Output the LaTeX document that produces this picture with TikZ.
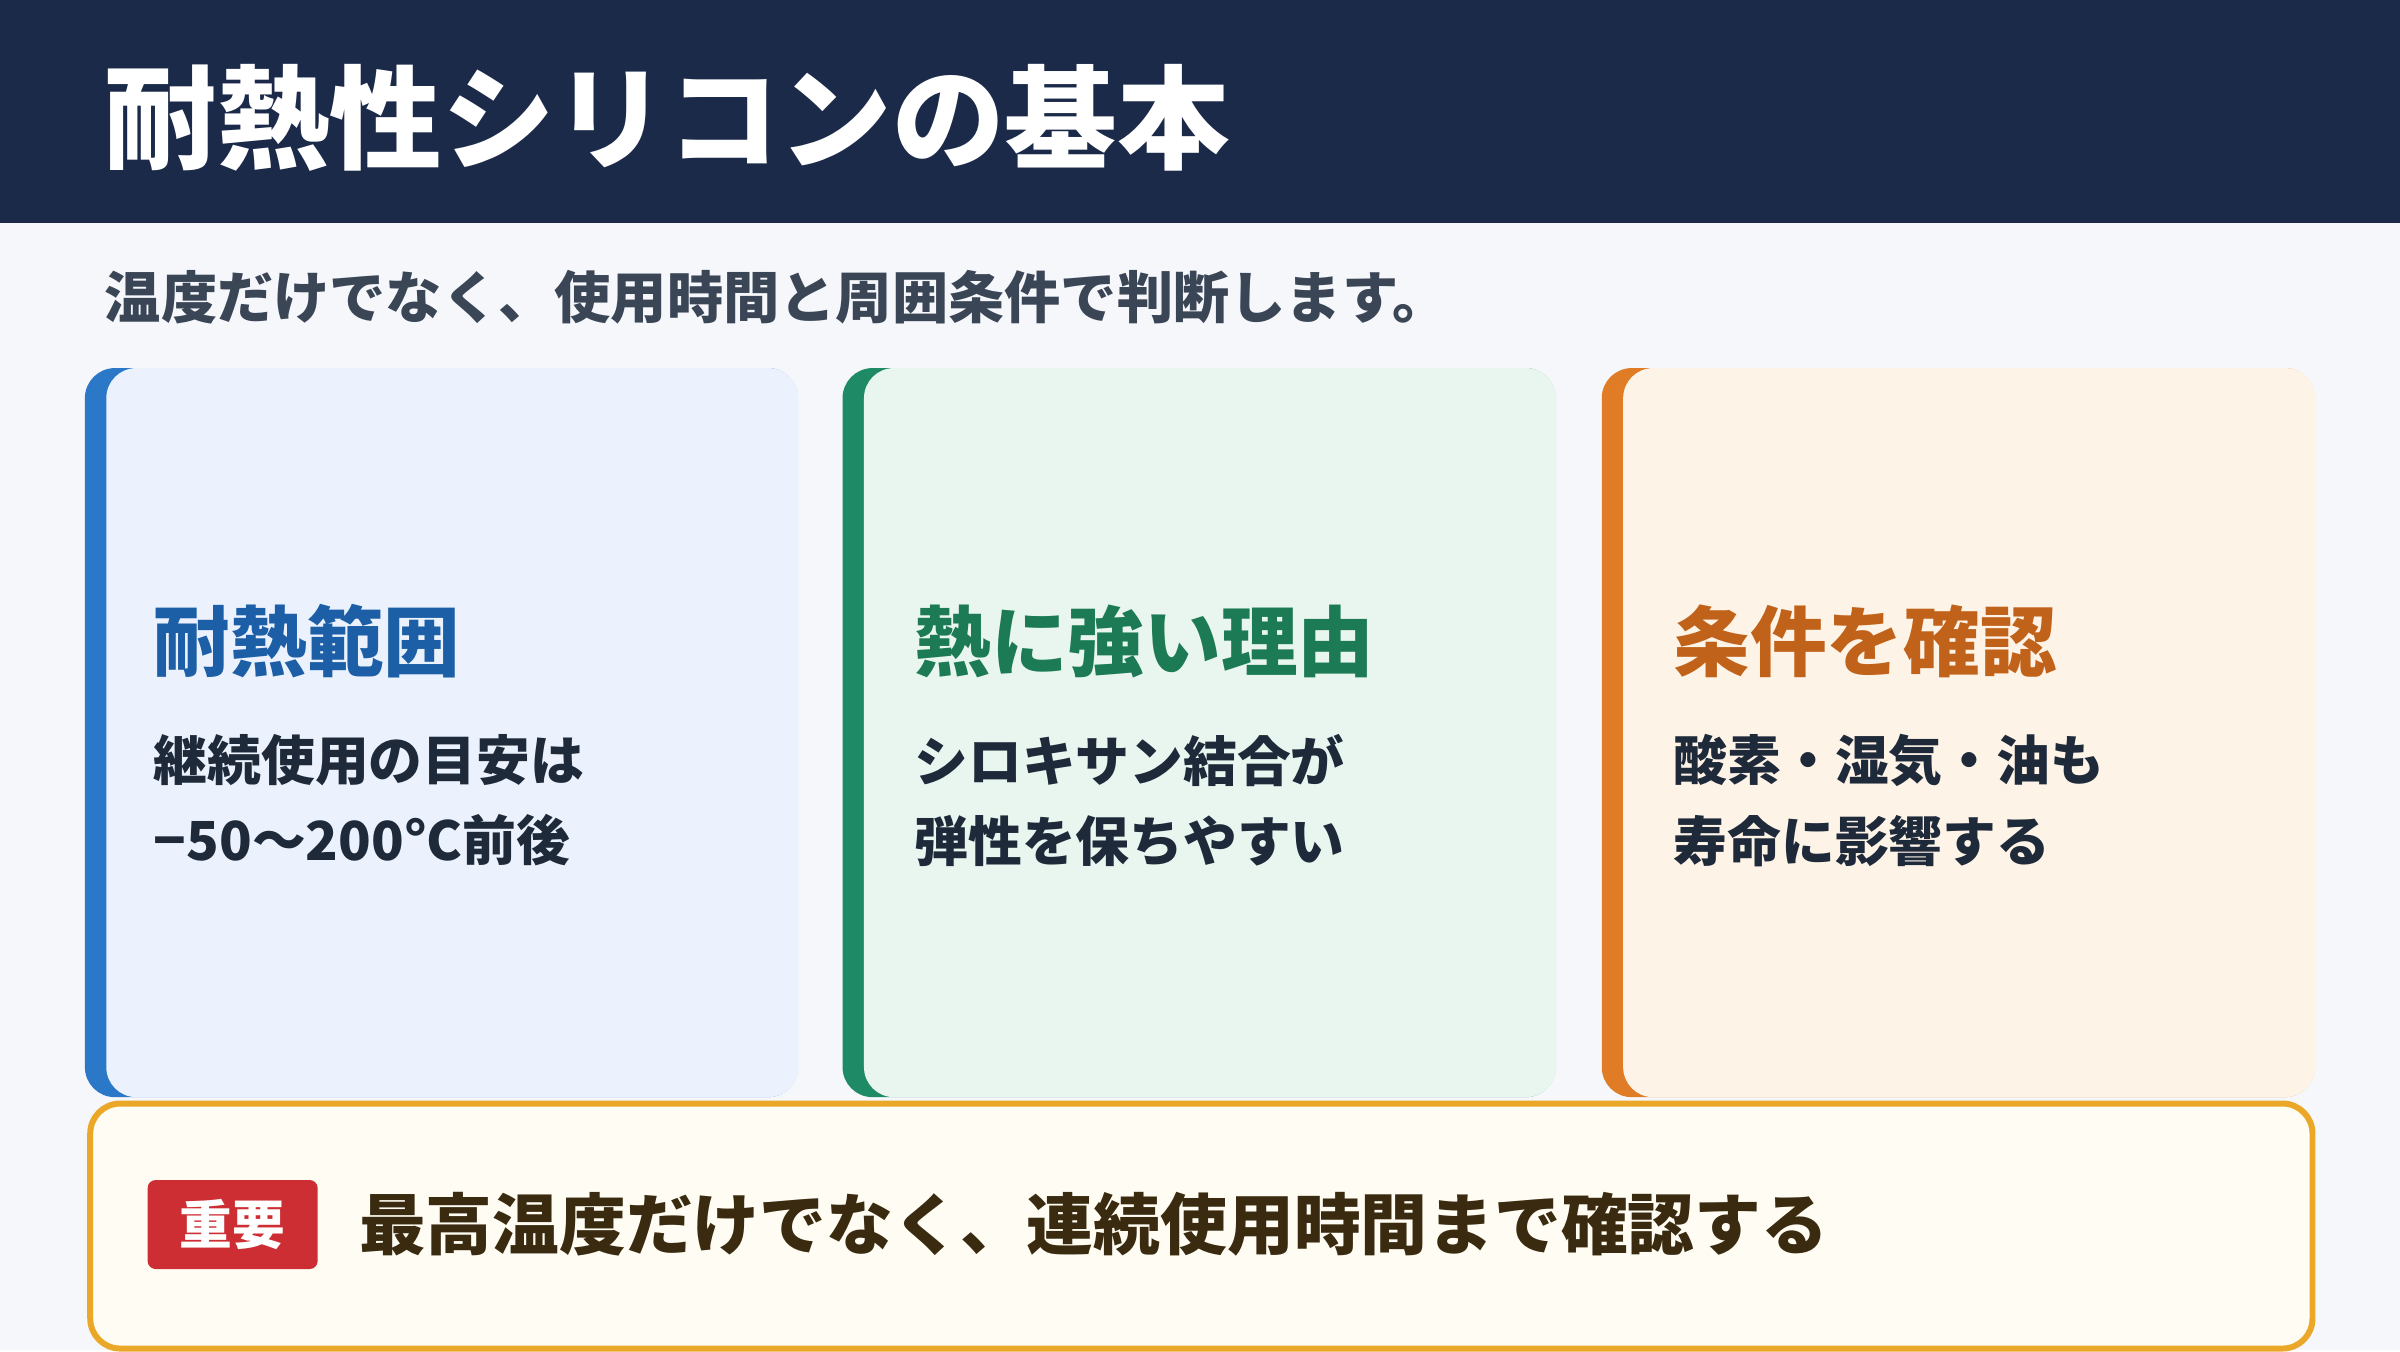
\documentclass[tikz,border=0pt]{standalone}
\usepackage{fontspec}
\setmainfont{Noto Sans CJK JP}
\usetikzlibrary{positioning}
\definecolor{navy}{HTML}{1C2A4A}
\definecolor{pagebg}{HTML}{F5F7FB}
\definecolor{subgray}{HTML}{3A4556}
\definecolor{bodyink}{HTML}{1E2A3A}
\definecolor{blueacc}{HTML}{2B78C8}
\definecolor{bluefill}{HTML}{EBF2FD}
\definecolor{bluehead}{HTML}{1D5FA6}
\definecolor{greenacc}{HTML}{1F8A66}
\definecolor{greenfill}{HTML}{E9F6F0}
\definecolor{greenhead}{HTML}{1C7A55}
\definecolor{orangeacc}{HTML}{E07B26}
\definecolor{orangefill}{HTML}{FEF3E7}
\definecolor{orangehead}{HTML}{C0621A}
\definecolor{notebord}{HTML}{EBA828}
\definecolor{notefill}{HTML}{FFFDF3}
\definecolor{notered}{HTML}{CC2E33}
\definecolor{noteink}{HTML}{3A2A10}
\tikzset{
cardback/.style={rectangle, rounded corners=0.3cm, anchor=north west,
minimum width=7.13cm, minimum height=7.29cm, fill=#1acc},
card/.style={rectangle, rounded corners=0.3cm, anchor=north west,
minimum width=6.92cm, minimum height=7.29cm, fill=#1fill},
heading/.style={anchor=base west, font=\fontsize{21.8}{26}\selectfont\bfseries, text=#1head, inner sep=0},
body/.style={anchor=north west, align=left, font=\fontsize{15.3}{23}\selectfont\bfseries, text=bodyink, inner sep=0}
}
\begin{document}
\begin{tikzpicture}[x=0.015306cm, y=-0.015306cm]
\fill[pagebg] (0,0) rectangle (1568,882);
\fill[navy] (0,0) rectangle (1568,146);
\node (title) [anchor=base west, inner sep=0, text=white, font=\fontsize{32}{38}\selectfont\bfseries] at (68,105) {耐熱性シリコンの基本};
\node (subtitle) [anchor=base west, inner sep=0, text=subgray, font=\fontsize{16}{19}\selectfont\bfseries] at (68,208) {温度だけでなく、使用時間と周囲条件で判断します。};

\node (rangeBack) [cardback=blue] at (55,240) {};
\node (range) [card=blue] at (69,240) {};
\node (rangeHead) [heading=blue] at (100,438) {耐熱範囲};
\node (rangeBody) [body] at (100,479) {継続使用の目安は\\−50〜200°C前後};

\node (reasonBack) [cardback=green] at (550,240) {};
\node (reason) [card=green] at (564,240) {};
\node (reasonHead) [heading=green] at (597,438) {熱に強い理由};
\node (reasonBody) [body] at (597,479) {シロキサン結合が\\弾性を保ちやすい};

\node (condBack) [cardback=orange] at (1046,240) {};
\node (cond) [card=orange] at (1060,240) {};
\node (condHead) [heading=orange] at (1093,438) {条件を確認};
\node (condBody) [body] at (1093,479) {酸素・湿気・油も\\寿命に影響する};

\node (note) [anchor=north west, rectangle, rounded corners=0.3cm, draw=notebord, line width=1.7pt, fill=notefill, minimum width=22.22cm, minimum height=2.45cm] at (57,719) {};
\node (badge) [anchor=west, rectangle, rounded corners=0.08cm, fill=notered, text=white, minimum width=1.7cm, minimum height=0.89cm, font=\fontsize{15}{18}\selectfont\bfseries] at (96,800) {重要};
\node (noteText) [right=0.4cm of badge, inner sep=0, text=noteink, font=\fontsize{19}{23}\selectfont\bfseries] {最高温度だけでなく、連続使用時間まで確認する};
\end{tikzpicture}
\end{document}
